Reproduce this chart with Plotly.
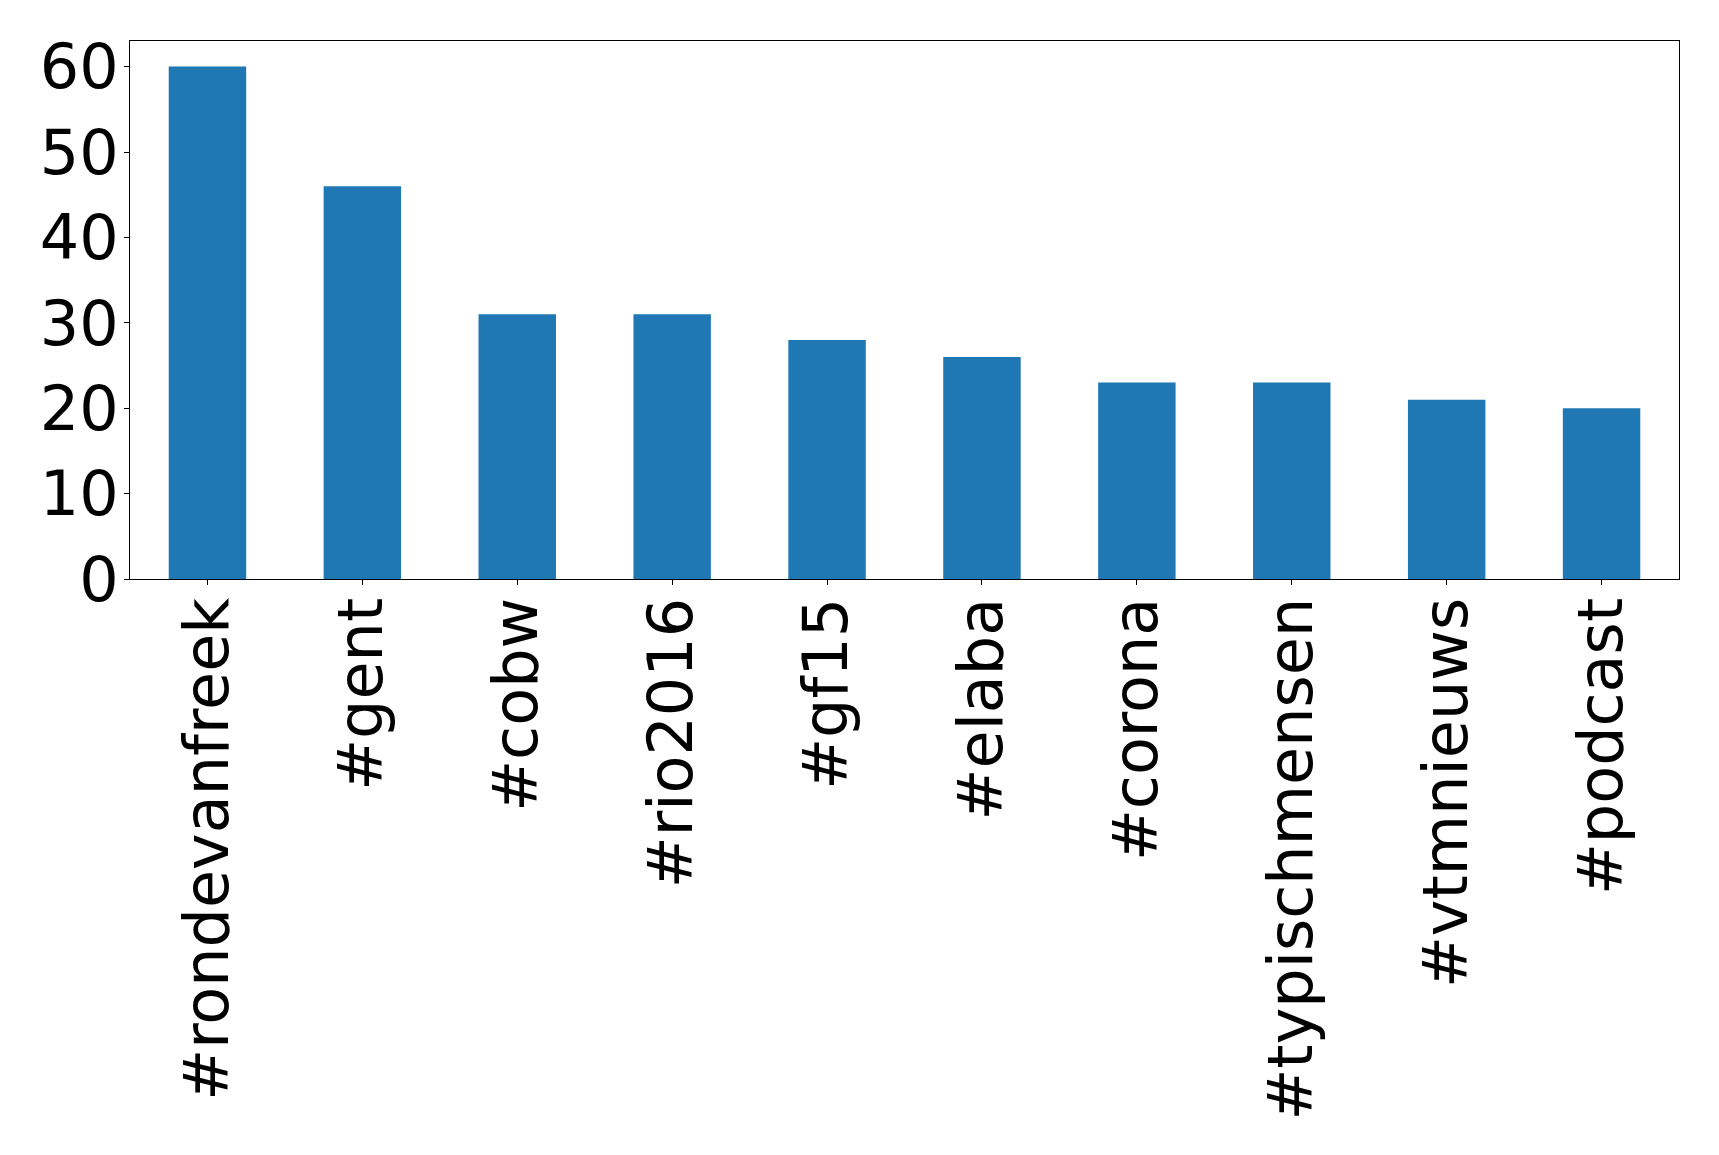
import plotly.graph_objects as go

categories = ["#rondevanfreek", "#gent", "#cobw", "#rio2016", "#gf15",
              "#elaba", "#corona", "#typischmensen", "#vtmnieuws", "#podcast"]
counts = [60, 46, 31, 31, 28, 26, 23, 23, 21, 20]
y_ticks = [0, 10, 20, 30, 40, 50, 60]

# page has an 8px body margin; size the figure to fit inside the viewport
OFF = 8
W, H = 1719 - 2 * OFF, 1155 - 2 * OFF
left, right, top, bottom = 129.5, 1679, 40.5, 579

fig = go.Figure(go.Bar(
    x=list(range(len(categories))), y=counts, width=0.5,
    marker=dict(color="#1f77b4", line=dict(width=0)),
))
font = dict(family="DejaVu Sans", size=62, color="black")
fig.update_layout(
    width=W, height=H,
    margin=dict(l=left - OFF, r=W - (right - OFF), t=top - OFF, b=H - (bottom - OFF), pad=0),
    paper_bgcolor="white", plot_bgcolor="white",
    showlegend=False,
    xaxis=dict(
        range=[-0.5, len(categories) - 0.5],
        tickmode="array", tickvals=list(range(len(categories))), ticktext=categories,
        tickangle=-90, tickfont=font, automargin=False, ticklabelstandoff=-12,
        ticks="outside", ticklen=5, tickwidth=1, tickcolor="black",
        showline=True, linecolor="black", linewidth=1, mirror=True,
        showgrid=False, zeroline=False,
    ),
    yaxis=dict(
        range=[0, 63],
        tickmode="array", tickvals=y_ticks, ticktext=[str(v) for v in y_ticks],
        tickfont=font, automargin=False, ticklabelstandoff=-7,
        ticks="outside", ticklen=5, tickwidth=1, tickcolor="black",
        showline=True, linecolor="black", linewidth=1, mirror=True,
        showgrid=False, zeroline=False,
    ),
)
fig.write_html("out.html")
